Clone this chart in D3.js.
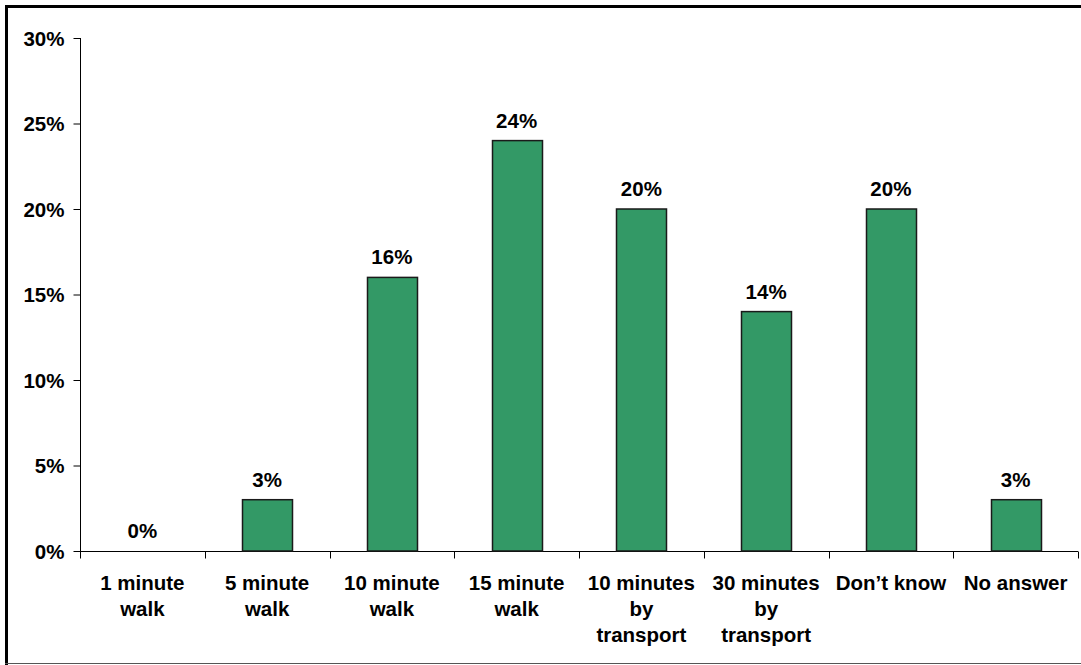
<!DOCTYPE html>
<html><head><meta charset="utf-8">
<script src="https://cdn.jsdelivr.net/npm/d3@7"></script>
<style>body{margin:0;background:#fff}svg{display:block}</style>
</head><body>
<svg id="c" width="1081" height="665"></svg>
<script>
const categories = [["1 minute","walk"],["5 minute","walk"],["10 minute","walk"],["15 minute","walk"],["10 minutes","by","transport"],["30 minutes","by","transport"],["Don’t know"],["No answer"]];
const values = [0,3,16,24,20,14,20,3];
const yTicks = [0,5,10,15,20,25,30];

const svg = d3.select("#c");
const font = "'Liberation Sans', Arial, sans-serif";
const fs = 20.5;
// frame
svg.append("line").attr("x1",6.5).attr("y1",5).attr("x2",6.5).attr("y2",665).attr("stroke","#000").attr("stroke-width",3);
svg.append("line").attr("x1",5).attr("y1",6.5).attr("x2",1081).attr("y2",6.5).attr("stroke","#000").attr("stroke-width",3);
svg.append("line").attr("x1",5).attr("y1",663.5).attr("x2",1081).attr("y2",663.5).attr("stroke","#555").attr("stroke-width",1);

const x = d3.scaleBand().domain(d3.range(categories.length)).range([80,1078]).paddingInner(0).paddingOuter(0);
const y = d3.scaleLinear().domain([0,30]).range([551,38]);

// y axis
const ya = svg.append("g").attr("transform","translate(80.5,0)")
  .call(d3.axisLeft(y).tickValues(yTicks).tickSize(7).tickPadding(9).tickFormat(d=>d+"%"));
ya.select(".domain").attr("stroke","#000").attr("d","M0,38V551");
ya.selectAll("line").attr("stroke","#000");
ya.selectAll("text").attr("font-family",font).attr("font-weight","bold").attr("font-size",fs).attr("fill","#000").attr("dy","0.36em");

// x axis
const xa = svg.append("g").attr("transform","translate(0,551.5)");
xa.append("line").attr("x1",80).attr("x2",1078).attr("stroke","#000");
const bounds = d3.range(categories.length+1).map(i => i===categories.length ? x.range()[1] : x(i));
xa.selectAll(".tk").data(bounds).join("line").attr("class","tk")
  .attr("x1",d=>Math.round(d)+0.5).attr("x2",d=>Math.round(d)+0.5).attr("y1",0).attr("y2",7).attr("stroke","#000");

// bars
const bw = 50;
svg.selectAll(".bar").data(values).join("rect").attr("class","bar")
  .attr("x",(d,i)=>Math.round(x(i)+x.bandwidth()/2-bw/2)+0.5)
  .attr("y",d=>y(d))
  .attr("width",bw).attr("height",d=>y(0)-y(d))
  .attr("fill","#339966").attr("stroke","#1a1a1a").attr("stroke-width",1.5)
  .style("display",d=>d>0?null:"none");

// value labels
svg.selectAll(".vl").data(values).join("text").attr("class","vl")
  .attr("x",(d,i)=>x(i)+x.bandwidth()/2).attr("y",d=>y(d)-13)
  .attr("text-anchor","middle").attr("font-family",font).attr("font-weight","bold").attr("font-size",fs)
  .text(d=>d+"%");

// category labels
const cl = svg.selectAll(".cl").data(categories).join("text").attr("class","cl")
  .attr("text-anchor","middle").attr("font-family",font).attr("font-weight","bold").attr("font-size",fs);
cl.each(function(lines,i){
  const t = d3.select(this);
  lines.forEach((l,j)=>t.append("tspan").attr("x",x(i)+x.bandwidth()/2).attr("y",590+j*26).text(l));
});
</script>
</body></html>
